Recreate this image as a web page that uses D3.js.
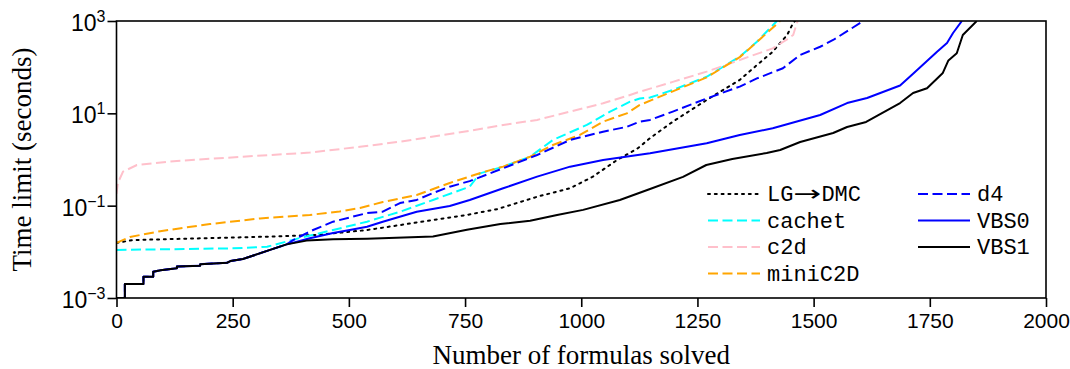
<!DOCTYPE html>
<html>
<head>
<meta charset="utf-8">
<script src="https://cdnjs.cloudflare.com/ajax/libs/d3/7.8.5/d3.min.js"></script>
<style>
  body { margin: 0; background: #fff; }
  svg { display: block; }
  .tick-label { font-family: "Liberation Sans", Arial, sans-serif; fill: #000; }
  .axis-title { font-family: "Liberation Serif", "DejaVu Serif", serif; font-size: 27px; fill: #000; }
  .legend-text { font-family: "Liberation Mono", "DejaVu Sans Mono", monospace; font-size: 22px; fill: #000; }
</style>
</head>
<body>
<div id="chart"></div>
<script>
// cactus plot: number of formulas solved vs time limit (log scale)
const xTicks = [0, 250, 500, 750, 1000, 1250, 1500, 1750, 2000];
const yTicks = [1e-3, 1e-1, 1e1, 1e3];
const yTickExp = ["\u22123", "\u22121", "1", "3"];

// easy instances: VBS0, VBS1 and d4 coincide here
const sharedStart = [[0, 0.001], [18, 0.001], [18, 0.002], [58, 0.002], [58, 0.0029], [79, 0.0029],
  [79, 0.0037], [95, 0.0040], [130, 0.0044], [130, 0.0048], [180, 0.0050], [180, 0.0054],
  [238, 0.0058], [245, 0.0063], [272, 0.0070], [324, 0.0105], [366, 0.0145]];

const lgdmc = [[0, 0.0156], [35, 0.018], [180, 0.0196], [324, 0.0213], [431, 0.0232], [539, 0.0297],
  [610, 0.038], [681, 0.049], [754, 0.063], [819, 0.084], [905, 0.156], [976, 0.238], [1025, 0.425],
  [1077, 0.975], [1120, 1.7], [1148, 2.9], [1197, 6.6], [1270, 19.5], [1341, 53], [1378, 111],
  [1412, 216], [1443, 498], [1456, 906], [1460, 1000]];

const cachet = [[0, 0.011], [250, 0.0119], [324, 0.0129], [395, 0.020], [466, 0.0297], [539, 0.045],
  [610, 0.074], [681, 0.133], [760, 0.258], [782, 0.50], [832, 0.70], [890, 1.15], [939, 2.65],
  [1012, 5.6], [1062, 10.9], [1105, 17.9], [1126, 21], [1148, 22], [1197, 32], [1270, 62],
  [1341, 169], [1378, 356], [1421, 1000]];

const c2d = [[0, 0.18], [3, 0.31], [14, 0.545], [44, 0.76], [130, 0.93], [272, 1.15], [416, 1.41],
  [524, 1.89], [610, 2.43], [760, 4.2], [832, 5.6], [905, 7.2], [976, 10.9], [1047, 16.5],
  [1105, 25], [1126, 29.4], [1197, 48], [1270, 80], [1341, 143], [1412, 256], [1443, 400],
  [1456, 498], [1464, 906], [1466, 1000]];

const miniC2D = [[0, 0.0156], [29, 0.021], [94, 0.028], [201, 0.040], [309, 0.053], [416, 0.063],
  [480, 0.075], [524, 0.089], [573, 0.12], [646, 0.17], [717, 0.31], [788, 0.53], [832, 0.70],
  [890, 1.15], [939, 2.06], [997, 3.4], [1047, 6.6], [1098, 10.0], [1126, 15.2], [1197, 30],
  [1270, 60], [1341, 165], [1378, 350], [1428, 1000]];

const d4 = sharedStart.concat([[380, 0.018], [423, 0.0297], [466, 0.045], [539, 0.069], [573, 0.074],
  [610, 0.114], [646, 0.133], [681, 0.188], [717, 0.258], [760, 0.34], [832, 0.645], [905, 1.25],
  [976, 2.65], [1047, 4.0], [1098, 5.1], [1126, 6.6], [1148, 7.2], [1197, 10.9], [1270, 21],
  [1341, 38], [1378, 57], [1434, 95], [1471, 184], [1514, 277], [1542, 388], [1607, 1000]]);

const vbs0 = sharedStart.concat([[416, 0.0196], [466, 0.0256], [502, 0.0297], [539, 0.035],
  [573, 0.045], [646, 0.074], [717, 0.098], [760, 0.133], [832, 0.238], [905, 0.425], [976, 0.70],
  [1047, 0.975], [1148, 1.36], [1270, 2.24], [1341, 3.4], [1412, 4.75], [1514, 9.2], [1572, 16.7],
  [1615, 21.5], [1686, 40], [1714, 72], [1765, 214], [1787, 333], [1800, 550], [1819, 1000]]);

const vbs1 = sharedStart.concat([[409, 0.0175], [466, 0.0188], [539, 0.0193], [681, 0.0215],
  [754, 0.030], [826, 0.040], [890, 0.047], [948, 0.063], [1004, 0.081], [1083, 0.133], [1148, 0.23],
  [1219, 0.42], [1269, 0.76], [1325, 1.03], [1399, 1.38], [1428, 1.61], [1471, 2.39], [1542, 3.75],
  [1572, 5.06], [1613, 6.5], [1686, 16.7], [1714, 27.5], [1744, 35], [1778, 75], [1790, 140],
  [1808, 200], [1821, 497], [1851, 1000]]);

const seriesNames = [["LG", "\u2192", "DMC"], ["cachet"], ["c2d"], ["miniC2D"], ["d4"], ["VBS0"], ["VBS1"]];
const seriesData = [lgdmc, cachet, c2d, miniC2D, d4, vbs0, vbs1];
const seriesColors = ["#000000", "#00ffff", "#ffc0cb", "#ffa500", "#0000ff", "#0000ff", "#000000"];
const seriesDash = ["2,4.8", "10,4.5", "10,4.5", "10,4.5", "10,4.5", null, null];

const width = 1070, height = 369;
const margin = {top: 21, right: 24, bottom: 71, left: 116.5};

const svg = d3.select("#chart").append("svg")
  .attr("width", width)
  .attr("height", height);

const x = d3.scaleLinear().domain([0, 2000]).range([margin.left, width - margin.right]);
const y = d3.scaleLog().domain([1e-3, 1e3]).range([height - margin.bottom, margin.top]);

svg.append("clipPath").attr("id", "plot-clip")
  .append("rect")
  .attr("x", x(0)).attr("y", y(1e3))
  .attr("width", x(2000) - x(0)).attr("height", y(1e-3) - y(1e3));

// lines
const line = d3.line().x(d => x(d[0])).y(d => y(d[1]));
const lines = svg.append("g").attr("clip-path", "url(#plot-clip)");
seriesData.forEach((s, i) => {
  lines.append("path")
    .datum(s)
    .attr("d", line)
    .attr("fill", "none")
    .attr("stroke", seriesColors[i])
    .attr("stroke-width", 2)
    .attr("stroke-dasharray", seriesDash[i])
    .attr("stroke-linecap", i == 0 ? "round" : "butt")
    .attr("stroke-linejoin", "round");
});

// frame
svg.append("rect")
  .attr("x", x(0)).attr("y", y(1e3))
  .attr("width", x(2000) - x(0)).attr("height", y(1e-3) - y(1e3))
  .attr("fill", "none").attr("stroke", "#000").attr("stroke-width", 1.6);

// axes
const xAxis = d3.axisBottom(x).tickValues(xTicks).tickSize(9).tickPadding(6).tickFormat(d3.format("d"));
const gx = svg.append("g").attr("transform", "translate(0," + y(1e-3) + ")").call(xAxis);
gx.select(".domain").remove();
gx.selectAll(".tick line").attr("stroke-width", 1.6);
gx.selectAll(".tick text").attr("class", "tick-label").attr("font-size", 21).attr("font-family", null);

const yAxis = d3.axisLeft(y).tickValues(yTicks).tickSize(9).tickFormat("");
const gy = svg.append("g").attr("transform", "translate(" + x(0) + ",0)").call(yAxis);
gy.select(".domain").remove();
gy.selectAll(".tick line").attr("stroke-width", 1.6);

yTicks.forEach((v, i) => {
  const t = svg.append("text")
    .attr("class", "tick-label")
    .attr("text-anchor", "end")
    .attr("x", x(0) - 11)
    .attr("y", y(v) + 10)
    .attr("font-size", 23);
  t.append("tspan").text("10");
  t.append("tspan").attr("dy", -9).attr("font-size", 16).text(yTickExp[i]);
});

// axis titles
svg.append("text")
  .attr("class", "axis-title")
  .attr("text-anchor", "middle")
  .attr("x", (x(0) + x(2000)) / 2)
  .attr("y", 364)
  .text("Number of formulas solved");

svg.append("text")
  .attr("class", "axis-title")
  .attr("text-anchor", "middle")
  .attr("transform", "translate(31," + (y(1e-3) + y(1e3)) / 2 + ") rotate(-90)")
  .text("Time limit (seconds)");

// legend, two columns
const legendCols = [708, 918];
const legendRows = [194, 220.5, 247, 273.5];
seriesNames.forEach((parts, i) => {
  const col = i < 4 ? 0 : 1;
  const row = i < 4 ? i : i - 4;
  const lx = legendCols[col], ly = legendRows[row];
  svg.append("line")
    .attr("x1", lx).attr("x2", lx + 52)
    .attr("y1", ly).attr("y2", ly)
    .attr("stroke", seriesColors[i])
    .attr("stroke-width", 2)
    .attr("stroke-dasharray", seriesDash[i])
    .attr("stroke-linecap", i == 0 ? "round" : "butt");
  const t = svg.append("text")
    .attr("class", "legend-text")
    .attr("x", lx + 59)
    .attr("y", ly + 7);
  parts.forEach(p => {
    const ts = t.append("tspan").text(p);
    if (p == "\u2192") {
      // long math-style arrow
      ts.attr("font-family", "DejaVu Sans, sans-serif")
        .attr("textLength", 28)
        .attr("lengthAdjust", "spacingAndGlyphs");
    }
  });
});
</script>
</body>
</html>
